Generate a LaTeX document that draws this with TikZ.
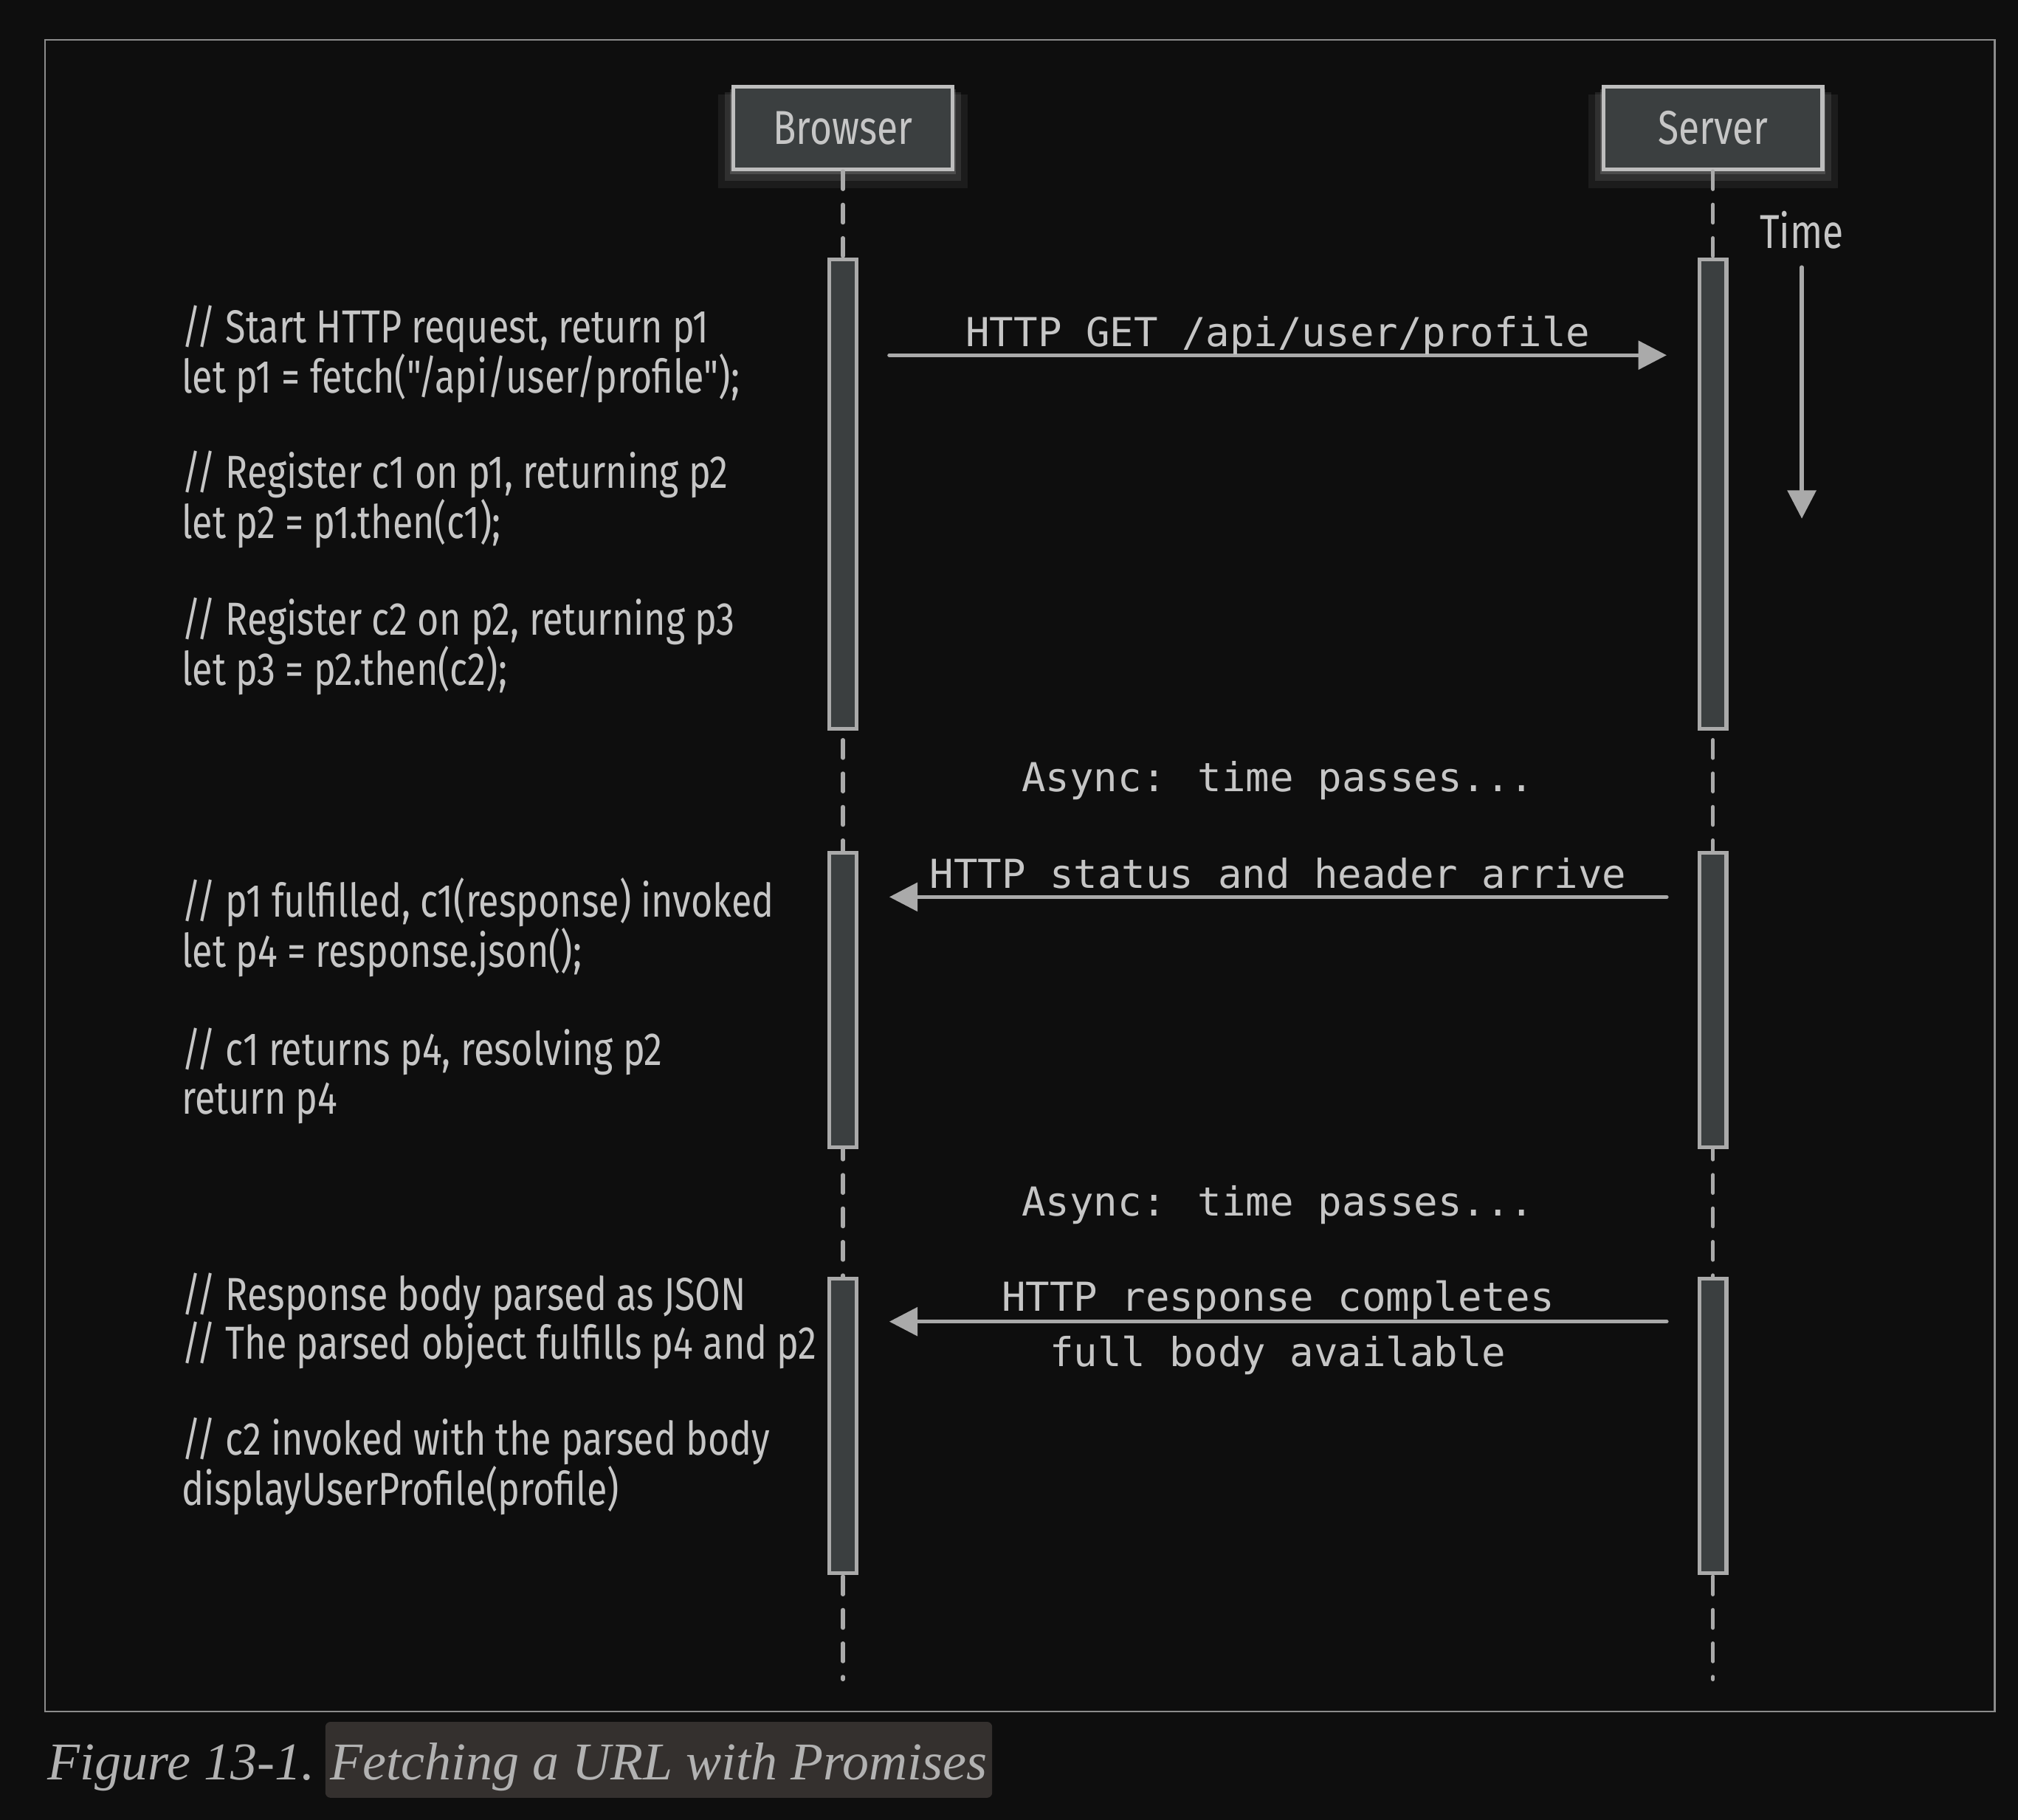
\documentclass[tikz,border=0pt]{standalone}
\usepackage{fontspec}
\setmainfont{Liberation Serif}
\newfontfamily\labelfont{Fira Sans}[FakeStretch=0.8]
\newfontfamily\codefont{DejaVu Sans Mono}
\usetikzlibrary{arrows.meta,shadows,positioning}
\definecolor{bgcol}{HTML}{0E0E0E}
\definecolor{ink}{HTML}{C6C6C6}
\definecolor{wire}{HTML}{AAAAAA}
\definecolor{boxfill}{HTML}{3B3F40}
\definecolor{headline}{HTML}{BEBEBE}
\definecolor{framecol}{HTML}{8C8C8C}
\definecolor{capbg}{HTML}{34302E}
\definecolor{capink}{HTML}{B2B2B2}
\tikzset{glow/.style={general shadow={fill=white,opacity=0.06,shadow yshift=-9pt,shadow scale=1.14},
    general shadow={fill=white,opacity=0.09,shadow yshift=-6pt,shadow scale=1.08},
    general shadow={fill=white,opacity=0.14,shadow yshift=-3pt,shadow scale=1.03}},
  head/.style={glow,draw=headline,line width=3pt,fill=boxfill,minimum width=170pt,minimum height=64pt,
    text=ink,font=\labelfont\fontsize{37}{40}\selectfont},
  bar/.style={draw=wire,line width=3pt,fill=boxfill,minimum width=21pt,inner sep=0pt},
  life/.style={wire,line width=3pt,line cap=round,dash pattern=on 14pt off 12pt},
  msg/.style={wire,line width=3pt,line cap=round,-{Triangle[length=22pt,width=22pt]},shorten <=24pt,shorten >=24pt},
  msglabel/.style={text=ink,font=\codefont\fontsize{31}{36}\selectfont,anchor=base,inner sep=0pt},
  code/.style={text=ink,font=\labelfont\fontsize{36}{37.5}\selectfont,align=left,inner sep=0pt,anchor=base west},
  caption/.style={text=capink,font=\itshape\fontsize{41.3}{48}\selectfont,inner sep=0pt,anchor=base west}}

\begin{document}
\begin{tikzpicture}[x=1pt,y=1pt]
            \fill[bgcol] (0,0) rectangle (1568,-1414);
            \useasboundingbox (0,0) rectangle (1568,-1414);
            \draw[framecol,line width=1.5pt] (35,-31) rectangle (1550,-1330);
            % lifelines
            \node[head] (browser) at (655,-99.5) {Browser};
            \node[head] (server) at (1331,-99.5) {Server};
            \coordinate (bend) at (655,-1305);
            \coordinate (send) at (1331,-1305);
            \draw[life] (browser.south) -- (bend);
            \draw[life] (server.south) -- (send);
            \foreach \n/\yc/\h in {1/384/368,2/777/232,3/1108/232} {
                \node[bar,minimum height={(\h-3)*1pt}] (ba\n) at (655,-\yc) {};
                \node[bar,minimum height={(\h-3)*1pt}] (sa\n) at (1331,-\yc) {};
            }
            % messages
            \coordinate (m1) at (0,-276);
            \coordinate (m2) at (0,-697);
            \coordinate (m3) at (0,-1027);
            \draw[msg] (ba1.east |- m1) -- node[msglabel,yshift=7pt] {HTTP GET /api/user/profile} (sa1.west |- m1);
            \draw[msg] (sa2.west |- m2) -- node[msglabel,yshift=7pt] {HTTP status and header arrive} (ba2.east |- m2);
            \draw[msg] (sa3.west |- m3) -- node[msglabel,yshift=8pt] {HTTP response completes}
                node[msglabel,yshift=-35pt] {full body available} (ba3.east |- m3);
            \node[msglabel] (async1) at (993,-615) {Async: time passes...};
            \node[msglabel] (async2) at (993,-945) {Async: time passes...};
            % time axis
            \node[text=ink,font=\labelfont\fontsize{37}{40}\selectfont,inner sep=0pt,anchor=base] (time) at (1400,-193) {Time};
            \coordinate (tend) at (1400,-403);
            \draw[msg,shorten <=14pt,shorten >=0pt] (time) -- (tend);
            % browser side code (anchored on the last line)
            \node[code] (c1) at (141,-305.5) {// Start HTTP request, return p1\\let p1 = fetch("/api/user/profile");};
            \node[code] (c2) at (141,-418.5) {// Register c1 on p1, returning p2\\let p2 = p1.then(c1);};
            \node[code] (c3) at (141,-532.5) {// Register c2 on p2, returning p3\\let p3 = p2.then(c2);};
            \node[code] (c4) at (141,-751.5) {// p1 fulfilled, c1(response) invoked\\let p4 = response.json();};
            \node[code] (c5) at (141,-865.5) {// c1 returns p4, resolving p2\\return p4};
            \node[code] (c6) at (141,-1056) {// Response body parsed as JSON\\// The parsed object fulfills p4 and p2};
            \node[code] (c7) at (141,-1169.5) {// c2 invoked with the parsed body\\displayUserProfile(profile)};
            % caption
            \node[caption] (fig) at (37,-1383) {Figure 13-1.};
            \node[caption,fill=capbg,rounded corners=4pt,inner xsep=4pt,inner ysep=2pt,text height=43pt,text depth=12pt]
                (title) at ([xshift=8pt]fig.base east) {Fetching a URL with Promises};
        \end{tikzpicture}
\end{document}
